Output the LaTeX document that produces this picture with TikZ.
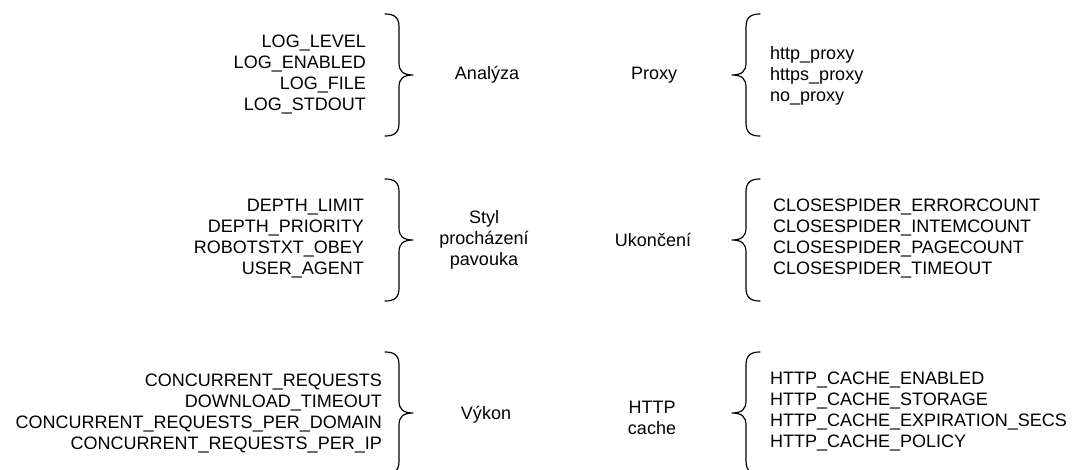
\documentclass[tikz,border=0pt]{standalone}
\usepackage{fontspec}
\setmainfont{Liberation Sans}
\begin{document}
\begin{tikzpicture}[
        x=1pt,y=-1pt,
        list/.style={inner sep=0pt,font=\fontsize{18}{21}\selectfont},
        topic/.style={inner sep=0pt,align=center,font=\fontsize{18}{21}\selectfont},
        bracket/.style={line width=1.2pt,line join=round,line cap=round},
        closebrace/.pic={
            \draw[bracket] (-14,-61) .. controls (-5,-61) and (0,-58) .. (0,-48) -- (0,-12)
                .. controls (0,-4) and (4,0) .. (14,0) .. controls (4,0) and (0,4) .. (0,12)
                -- (0,48) .. controls (0,58) and (-5,61) .. (-14,61);
        }
    ]
        \useasboundingbox (0,0) rectangle (1075,470);

        % Define the setting lists
        \node[list,anchor=east,align=right] (logs) at (366,75) {LOG\_LEVEL\\LOG\_ENABLED\\LOG\_FILE\\LOG\_STDOUT};
        \node[list,anchor=east,align=right] (depth) at (364,239) {DEPTH\_LIMIT\\DEPTH\_PRIORITY\\ROBOTSTXT\_OBEY\\USER\_AGENT};
        \node[list,anchor=east,align=right] (concur) at (382,414) {CONCURRENT\_REQUESTS\\DOWNLOAD\_TIMEOUT\\CONCURRENT\_REQUESTS\_PER\_DOMAIN\\CONCURRENT\_REQUESTS\_PER\_IP};
        \node[list,anchor=west,align=left] (proxies) at (770,76) {http\_proxy\\https\_proxy\\no\_proxy};
        \node[list,anchor=west,align=left] (closing) at (773,239) {CLOSESPIDER\_ERRORCOUNT\\CLOSESPIDER\_INTEMCOUNT\\CLOSESPIDER\_PAGECOUNT\\CLOSESPIDER\_TIMEOUT};
        \node[list,anchor=west,align=left] (cache) at (770,412) {HTTP\_CACHE\_ENABLED\\HTTP\_CACHE\_STORAGE\\HTTP\_CACHE\_EXPIRATION\_SECS\\HTTP\_CACHE\_POLICY};

        % Define the topics
        \node[topic] (analyza) at (487,75) {Analýza};
        \node[topic] (styl) at (484,240) {Styl\\procházení\\pavouka};
        \node[topic] (vykon) at (486,415) {Výkon};
        \node[topic] (proxy) at (654,75) {Proxy};
        \node[topic] (ukonceni) at (653,240) {Ukončení};
        \node[topic] (httpcache) at (652,418) {HTTP\\cache};

        % Braces
        \pic at (399,75) {closebrace};
        \pic at (399,240) {closebrace};
        \pic at (399,413) {closebrace};
        \pic[xscale=-1] at (746,75) {closebrace};
        \pic[xscale=-1] at (746,240) {closebrace};
        \pic[xscale=-1] at (746,413) {closebrace};
    \end{tikzpicture}
\end{document}
